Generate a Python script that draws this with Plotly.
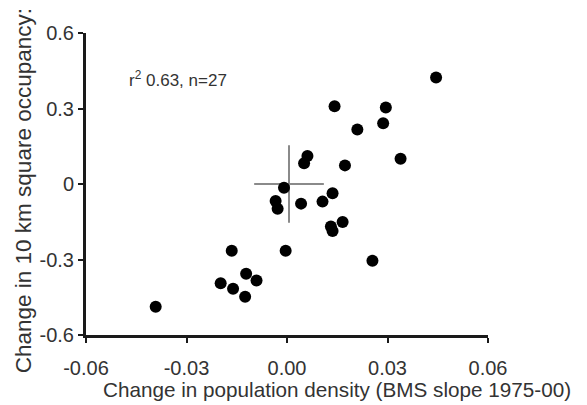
import plotly.graph_objects as go

# Data
pop_density_change = [
    -0.0392, -0.0198, -0.0165, -0.0161, -0.0122, -0.0091, -0.0125,
    -0.0004, -0.0009, -0.0034, -0.0028, 0.0042, 0.0106, 0.0136,
    0.0131, 0.0136, 0.0166, 0.0255,
    0.0445, 0.0142, 0.0295, 0.0287, 0.0210, 0.0061, 0.0051, 0.0173, 0.0339,
]
occupancy_change = [
    -0.488, -0.394, -0.265, -0.416, -0.357, -0.383, -0.448,
    -0.265, -0.015, -0.068, -0.098, -0.078, -0.070, -0.037,
    -0.169, -0.187, -0.151, -0.305,
    0.423, 0.309, 0.304, 0.241, 0.217, 0.111, 0.082, 0.074, 0.100,
]
mean_x = [0.0006]
mean_y = [0.0]
err_x = [0.0104]
err_y = [0.154]

x_ticks = [-0.06, -0.03, 0.0, 0.03, 0.06]
x_tick_labels = ["-0.06", "-0.03", "0.00", "0.03", "0.06"]
y_ticks = [-0.6, -0.3, 0.0, 0.3, 0.6]
y_tick_labels = ["-0.6", "-0.3", "0", "0.3", "0.6"]

FONT = "Liberation Sans, Arial, sans-serif"
TXT = "#333333"

fig = go.Figure()
fig.add_trace(go.Scatter(
    x=mean_x, y=mean_y, mode="markers",
    marker=dict(size=1, color="rgba(0,0,0,0)"),
    error_x=dict(type="data", array=err_x, color="#8a8a8a", thickness=2, width=0),
    error_y=dict(type="data", array=err_y, color="#8a8a8a", thickness=2, width=0),
    hoverinfo="skip", showlegend=False,
))
fig.add_trace(go.Scatter(
    x=pop_density_change, y=occupancy_change, mode="markers",
    marker=dict(size=12, color="black"), showlegend=False,
))

axis_common = dict(
    showline=True, linecolor="#1a1a1a", linewidth=3,
    ticks="outside", ticklen=5, tickwidth=2, tickcolor="#1a1a1a",
    showgrid=False, zeroline=False, mirror=False, automargin=False,
    tickfont=dict(family=FONT, size=20, color=TXT),
)
# The page body has an 8px default margin, so the figure is 8px smaller
# and its margins are shifted by 8px to land on the reference pixels.
fig.update_layout(
    template="none",
    width=579, height=397,
    margin=dict(l=78, r=99, t=25, b=70, autoexpand=False),
    paper_bgcolor="white", plot_bgcolor="white",
    xaxis=dict(range=[-0.06, 0.06], tickvals=x_ticks, ticktext=x_tick_labels,
               ticklabelstandoff=8, **axis_common),
    yaxis=dict(range=[-0.6, 0.6], tickvals=y_ticks, ticktext=y_tick_labels, **axis_common),
    annotations=[
        dict(text="r<sup>2</sup> 0.63, n=27", x=-0.0478, y=0.416, xref="x", yref="y",
             xanchor="left", yanchor="middle", showarrow=False,
             font=dict(family=FONT, size=17, color=TXT)),
        dict(text="Change in population density (BMS slope 1975-00)",
             x=0.624, y=0, xref="paper", yref="paper", xanchor="center", yanchor="middle",
             yshift=-54, showarrow=False, font=dict(family=FONT, size=20.7, color=TXT)),
        dict(text="Change in 10 km square occupancy:", textangle=-90,
             x=0, y=0.476, xref="paper", yref="paper", xanchor="center", yanchor="middle",
             xshift=-63, showarrow=False, font=dict(family=FONT, size=22.5, color=TXT)),
    ],
)
fig.write_html("out.html")
